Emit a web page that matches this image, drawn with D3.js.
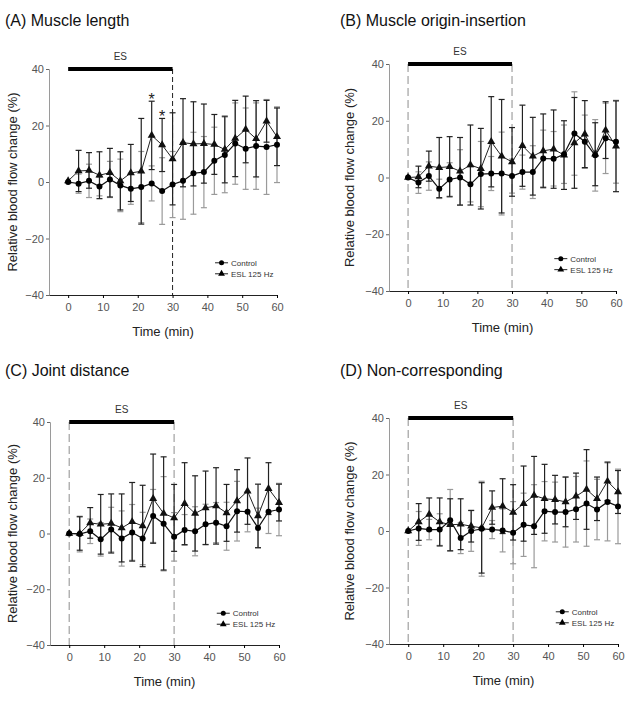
<!DOCTYPE html>
<html>
<head>
<meta charset="utf-8">
<script src="https://cdn.jsdelivr.net/npm/d3@7"></script>
<style>
    body { margin: 0; background: #fff; }
    svg { display: block; }
</style>
</head>
<body>
<svg id="chart" width="633" height="720"></svg>
<script>
const FONT = "'Liberation Sans', Arial, sans-serif";

// time points (min)
const times = [0, 3, 6, 9, 12, 15, 18, 21, 24, 27, 30, 33, 36, 39, 42, 45, 48, 51, 54, 57, 60];
const xTicks = [0, 10, 20, 30, 40, 50, 60];
const yTicks = [-40, -20, 0, 20, 40];
const esPeriod = [0, 30];
const legendLabels = ["Control", "ESL 125 Hz"];
const titles = ["(A) Muscle length", "(B) Muscle origin-insertion", "(C) Joint distance", "(D) Non-corresponding"];

// (A) Muscle length
const aControl   = [0, -0.6, 0.4, -1.6, 0.9, -1.2, -2.4, -1.8, -0.5, -3.2, -0.9, 0.4, 3.1, 3.5, 7.5, 9.6, 13.6, 11.8, 12.7, 12.4, 13.2];
const aControlSd = [0, 3.4, 5.9, 3.3, 6.4, 9.3, 5.5, 12.6, 6.2, 11.8, 11.7, 13.6, 14.5, 12.6, 11.9, 13.4, 14.4, 14.4, 15.3, 16.8, 13.4];
const aEsl       = [0.4, 3.9, 4.1, 2.4, 3.3, 0.4, 3.2, 3.8, 16.5, 13.1, 8.2, 13.9, 13.5, 13.6, 13.3, 11.5, 15.4, 18.6, 15.3, 21.5, 16.0];
const aEslSd     = [0, 7.3, 6.3, 8.3, 8.6, 10.3, 10.1, 18.7, 12.1, 9.4, 16.3, 15.6, 14.9, 14.0, 10.6, 11.8, 13.5, 11.8, 13.5, 7.4, 10.2];
const aStars     = [24, 27];

// (B) Muscle origin-insertion
const bControl   = [0, -1.8, 0.5, -4.0, -0.7, 0, -2.4, 1.2, 1.4, 1.4, 0.5, 1.9, 1.9, 6.7, 6.6, 8.2, 15.5, 12.6, 7.8, 13.8, 12.6];
const bControlSd = [0, 3.8, 5.0, 3.4, 5.9, 9.8, 6.2, 11.5, 6.0, 14.6, 6.0, 6.0, 9.3, 10.0, 9.6, 10.3, 14.7, 9.4, 12.6, 12.4, 14.6];
const bEsl       = [0, 0.2, 4.0, 3.5, 3.8, 2.2, 4.4, 3.1, 12.6, 7.5, 5.5, 11.2, 7.5, 9.4, 10.0, 7.9, 12.2, 15.3, 8.2, 16.7, 11.0];
const bEslSd     = [0, 3.8, 5.3, 10.6, 10.6, 11.9, 14.1, 14.2, 15.9, 20.0, 12.1, 14.3, 13.7, 13.0, 13.8, 12.1, 16.0, 11.8, 11.1, 10.0, 16.0];

// (C) Joint distance
const cControl   = [0, -0.2, 0.8, -2.1, 1.4, -1.8, 0.4, -1.8, 6.3, 3.5, -1.2, 1.3, 0.8, 3.3, 3.9, 2.6, 8.0, 7.8, 2.0, 7.8, 8.6];
const cControlSd = [0, 6.4, 4.4, 6.0, 8.0, 9.9, 10.0, 9.4, 9.5, 16.9, 8.7, 5.5, 8.8, 7.2, 7.2, 8.6, 10.7, 7.2, 7.1, 7.8, 9.4];
const cEsl       = [0, 0, 3.8, 3.3, 3.6, 2.0, 4.2, 2.7, 12.5, 7.2, 5.6, 10.7, 7.2, 9.2, 9.9, 7.4, 11.7, 15.2, 6.3, 16.1, 11.1];
const cEslSd     = [0, 6.0, 5.5, 10.7, 10.6, 12.2, 14.1, 14.6, 16.0, 20.3, 12.0, 14.7, 13.5, 13.2, 13.7, 10.2, 11.2, 11.9, 11.4, 9.3, 6.6];

// (D) Non-corresponding
const dControl   = [0, 0.9, 0.5, 0.5, 3.8, -2.5, 0, 0.8, 0.5, 0.2, -0.6, 2.2, 1.7, 7.0, 6.7, 6.7, 7.7, 9.7, 7.6, 10.3, 8.7];
const dControlSd = [0, 6.0, 3.6, 5.6, 10.9, 5.5, 7.2, 16.8, 3.2, 7.6, 11.0, 11.2, 14.7, 10.5, 10.6, 12.4, 11.6, 15.1, 10.7, 13.8, 13.2];
const dEsl       = [0, 3.2, 5.9, 3.2, 2.2, 2.4, 1.7, 1.1, 8.3, 8.8, 6.6, 9.7, 12.6, 11.4, 11.1, 10.3, 12.3, 14.7, 11.4, 17.6, 13.8];
const dEslSd     = [0, 6.5, 5.8, 8.5, 9.2, 9.0, 5.6, 16.0, 5.9, 9.7, 9.8, 13.3, 13.8, 12.2, 8.6, 8.8, 8.2, 14.1, 7.7, 6.8, 7.6];

// panel placement in the page (pixels)
const panels = [
    { title: titles[0], control: aControl, controlSd: aControlSd, esl: aEsl, eslSd: aEslSd, stars: aStars,
      box: { axisX: 49, right: 277, top: 69, bottom: 295, titleX: 5, titleY: 26, labelX: 17 }, greyDash: false },
    { title: titles[1], control: bControl, controlSd: bControlSd, esl: bEsl, eslSd: bEslSd, stars: [],
      box: { axisX: 389, right: 616, top: 64, bottom: 291, titleX: 340, titleY: 26, labelX: 354 }, greyDash: true },
    { title: titles[2], control: cControl, controlSd: cControlSd, esl: cEsl, eslSd: cEslSd, stars: [],
      box: { axisX: 50, right: 279, top: 422, bottom: 645, titleX: 5, titleY: 376, labelX: 17 }, greyDash: true },
    { title: titles[3], control: dControl, controlSd: dControlSd, esl: dEsl, eslSd: dEslSd, stars: [],
      box: { axisX: 389, right: 618, top: 418, bottom: 644, titleX: 340, titleY: 376, labelX: 354 }, greyDash: true }
];

const svg = d3.select("#chart");

function drawErrors(g, x, y, means, sds, colour) {
    const bars = g.append("g")
        .attr("stroke", colour)
        .attr("stroke-width", 1.2);

    times.forEach((t, i) => {
        if (!sds[i]) return;
        const lo = y(means[i] - sds[i]);
        const hi = y(means[i] + sds[i]);
        bars.append("line")
            .attr("x1", x(t)).attr("x2", x(t))
            .attr("y1", lo).attr("y2", hi);
        [lo, hi].forEach(yy => {
            bars.append("line")
                .attr("x1", x(t) - 3).attr("x2", x(t) + 3)
                .attr("y1", yy).attr("y2", yy);
        });
    });
}

function drawPanel(p) {
    const b = p.box;
    const g = svg.append("g");

    const x = d3.scaleLinear().domain([-5.5, 60]).range([b.axisX, b.right]);
    const y = d3.scaleLinear().domain([-40, 40]).range([b.bottom, b.top]);

    g.append("text")
        .attr("x", b.titleX)
        .attr("y", b.titleY)
        .attr("font-family", FONT)
        .attr("font-size", 16)
        .attr("fill", "#111")
        .text(p.title);

    // axes
    const yAxis = g.append("g")
        .attr("transform", `translate(${b.axisX},0)`)
        .call(d3.axisLeft(y).tickValues(yTicks).tickSize(3).tickPadding(2));
    yAxis.attr("font-family", FONT).attr("font-size", 11);
    yAxis.select(".domain").attr("stroke", "#9a9a9a");
    yAxis.selectAll(".tick line").attr("stroke", "#666");
    yAxis.selectAll(".tick text").attr("fill", "#555");

    const xAxis = g.append("g")
        .attr("transform", `translate(0,${b.bottom})`)
        .call(d3.axisBottom(x).tickValues(xTicks).tickSize(3).tickPadding(5).tickSizeOuter(0));
    xAxis.attr("font-family", FONT).attr("font-size", 11);
    xAxis.select(".domain").attr("stroke", "#222").attr("stroke-width", 1.2);
    xAxis.selectAll(".tick text").attr("fill", "#555");

    g.append("text")
        .attr("transform", `translate(${b.labelX},${(b.top + b.bottom) / 2}) rotate(-90)`)
        .attr("text-anchor", "middle")
        .attr("font-family", FONT)
        .attr("font-size", 13)
        .attr("fill", "#222")
        .text("Relative blood flow change (%)");

    g.append("text")
        .attr("x", (b.axisX + b.right) / 2)
        .attr("y", b.bottom + 41)
        .attr("text-anchor", "middle")
        .attr("font-family", FONT)
        .attr("font-size", 13)
        .attr("fill", "#222")
        .text("Time (min)");

    // stimulation period
    const dashTimes = p.greyDash ? esPeriod : [esPeriod[1]];
    dashTimes.forEach(t => {
        g.append("line")
            .attr("x1", x(t)).attr("x2", x(t))
            .attr("y1", y(40)).attr("y2", y(-40))
            .attr("stroke", p.greyDash ? "#a8a8a8" : "#222")
            .attr("stroke-width", p.greyDash ? 1.3 : 1)
            .attr("stroke-dasharray", p.greyDash ? "8,4" : "5,3");
    });

    g.append("line")
        .attr("x1", x(esPeriod[0])).attr("x2", x(esPeriod[1]))
        .attr("y1", y(40)).attr("y2", y(40))
        .attr("stroke", "#000")
        .attr("stroke-width", 4);

    g.append("text")
        .attr("x", x((esPeriod[0] + esPeriod[1]) / 2))
        .attr("y", y(40) - 9)
        .attr("text-anchor", "middle")
        .attr("font-family", FONT)
        .attr("font-size", 10)
        .attr("fill", "#333")
        .text("ES");

    // error bars
    drawErrors(g, x, y, p.control, p.controlSd, "#9a9a9a");
    drawErrors(g, x, y, p.esl, p.eslSd, "#222");

    const line = d3.line()
        .x((d, i) => x(times[i]))
        .y(d => y(d));

    g.append("path")
        .datum(p.esl)
        .attr("d", line)
        .attr("fill", "none")
        .attr("stroke", "#222")
        .attr("stroke-width", 1);

    g.append("path")
        .datum(p.control)
        .attr("d", line)
        .attr("fill", "none")
        .attr("stroke", "#111")
        .attr("stroke-width", 1.2);

    const tri = d3.symbol().type(d3.symbolTriangle).size(28);

    g.selectAll(".esl")
        .data(p.esl)
        .enter()
        .append("path")
        .attr("d", tri)
        .attr("transform", (d, i) => `translate(${x(times[i])},${y(d)})`)
        .attr("fill", "#111");

    g.selectAll(".ctl")
        .data(p.control)
        .enter()
        .append("circle")
        .attr("cx", (d, i) => x(times[i]))
        .attr("cy", d => y(d))
        .attr("r", 3)
        .attr("fill", "#000");

    // significance marks
    p.stars.forEach(t => {
        const i = times.indexOf(t);
        g.append("text")
            .attr("x", x(t))
            .attr("y", y(p.esl[i] + p.eslSd[i]) + 4)
            .attr("text-anchor", "middle")
            .attr("font-family", FONT)
            .attr("font-size", 16)
            .attr("fill", "#222")
            .text("*");
    });

    // legend
    const lx = x(42.2);
    const ly = y(-28.6);
    legendLabels.forEach((name, k) => {
        const yy = ly + k * 11;
        g.append("line")
            .attr("x1", lx).attr("x2", lx + 13)
            .attr("y1", yy).attr("y2", yy)
            .attr("stroke", "#222");
        if (k === 0) {
            g.append("circle").attr("cx", lx + 6.5).attr("cy", yy).attr("r", 2.5).attr("fill", "#000");
        } else {
            g.append("path")
                .attr("d", d3.symbol().type(d3.symbolTriangle).size(20))
                .attr("transform", `translate(${lx + 6.5},${yy})`)
                .attr("fill", "#000");
        }
        g.append("text")
            .attr("x", lx + 16)
            .attr("y", yy + 3)
            .attr("font-family", FONT)
            .attr("font-size", 8)
            .attr("fill", "#333")
            .text(name);
    });
}

panels.forEach(drawPanel);
</script>
</body>
</html>
